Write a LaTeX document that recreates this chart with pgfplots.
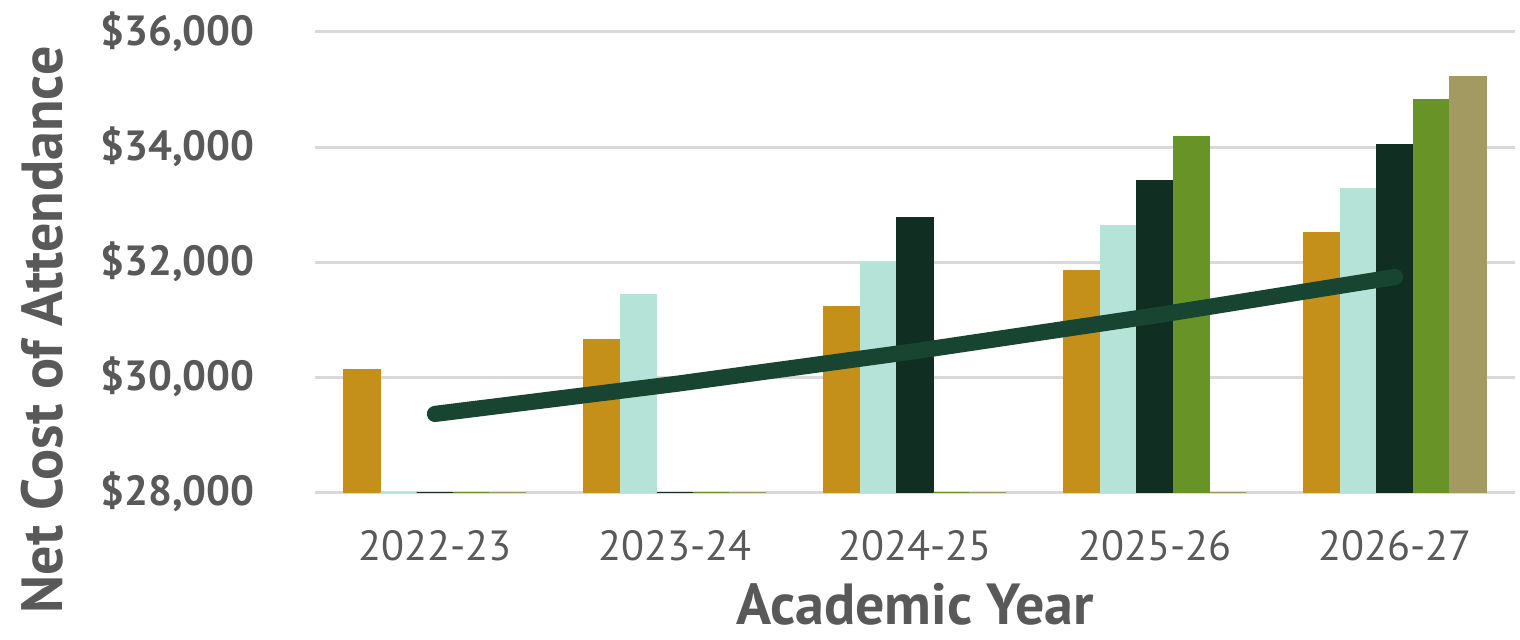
\documentclass[border=0pt]{standalone}
\usepackage{pgfplots}
\pgfplotsset{compat=1.18}
\usepackage{fontspec}
\setmainfont{PT Sans}

\definecolor{cgold}{HTML}{C4901A}
\definecolor{cmint}{HTML}{B5E3D8}
\definecolor{cdark}{HTML}{102E21}
\definecolor{cgreen}{HTML}{679327}
\definecolor{ckhaki}{HTML}{A39A62}
\definecolor{ctrend}{HTML}{174531}
\definecolor{cgrid}{HTML}{D9D9D9}
\definecolor{ctext}{HTML}{595959}

\begin{document}
\begin{tikzpicture}
\useasboundingbox (-89.6pt,-41.8pt) rectangle (342.8pt,140.0pt);
\begin{axis}[
    at={(0,0)}, anchor=south west,
    scale only axis,
    width=341.4pt, height=130.9pt,
    xmin=-0.5, xmax=4.5,
    ymin=28000, ymax=36000,
    xtick={0,1,2,3,4},
    xticklabels={2022-23,2023-24,2024-25,2025-26,2026-27},
    ytick={28000,30000,32000,34000,36000},
    ymajorgrids,
    grid style={cgrid, line width=0.85pt},
    axis line style={draw=none},
    major tick length=0pt,
    /pgf/number format/assume math mode=true,
    /pgf/number format/1000 sep={,},
    yticklabel={\$\pgfmathprintnumber{\tick}},
    scaled y ticks=false,
    tick label style={font=\fontsize{12}{14}\selectfont, text=ctext, inner sep=0pt},
    yticklabel style={font=\fontsize{12}{14}\selectfont\bfseries, anchor=east},
    yticklabel shift=17pt,
    xticklabel style={anchor=north},
    xticklabel shift=10.8pt,
    xlabel={Academic Year},
    ylabel={Net Cost of Attendance},
    label style={font=\fontsize{16.5}{18}\selectfont\bfseries, text=ctext},
    xlabel style={at={(axis description cs:0.5,0)}, anchor=center, yshift=-32pt},
    ylabel style={at={(axis description cs:0,0.5)}, anchor=center, rotate=0, xshift=-19.3pt, yshift=77.7pt},
]
% five cost series, zero years sit on the 28,000 baseline
\addplot[ybar, bar width=0.152, bar shift=-0.304, fill=cgold, draw=cgold, line width=0.3pt]
    coordinates {(0,30140) (1,30660) (2,31220) (3,31860) (4,32520)};
\addplot[ybar, bar width=0.152, bar shift=-0.152, fill=cmint, draw=cmint, line width=0.3pt]
    coordinates {(0,28000) (1,31430) (2,32000) (3,32630) (4,33270)};
\addplot[ybar, bar width=0.152, bar shift=0, fill=cdark, draw=cdark, line width=0.3pt]
    coordinates {(0,28000) (1,28000) (2,32780) (3,33410) (4,34050)};
\addplot[ybar, bar width=0.152, bar shift=0.152, fill=cgreen, draw=cgreen, line width=0.3pt]
    coordinates {(0,28000) (1,28000) (2,28000) (3,34190) (4,34820)};
\addplot[ybar, bar width=0.152, bar shift=0.304, fill=ckhaki, draw=ckhaki, line width=0.3pt]
    coordinates {(0,28000) (1,28000) (2,28000) (3,28000) (4,35220)};
% trend line
\addplot[ctrend, line width=4.6pt, line cap=round, line join=round, mark=none]
    coordinates {(0,29360) (1,29880) (2,30450) (3,31070) (4,31740)};
\end{axis}
\end{tikzpicture}
\end{document}
